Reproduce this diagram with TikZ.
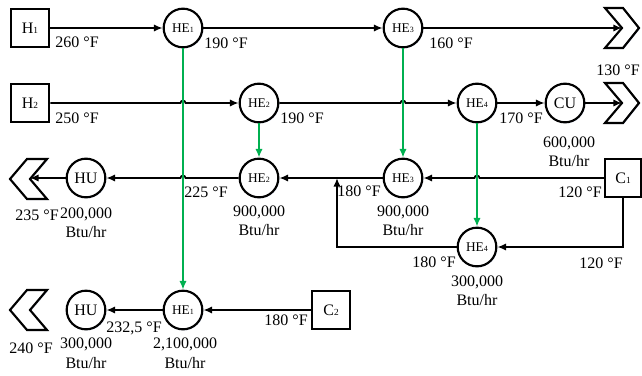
\documentclass[tikz,border=0pt]{standalone}
\usepackage{fontspec}
\setmainfont{Liberation Serif}
\usetikzlibrary{arrows.meta,shadows}
\definecolor{flowgreen}{RGB}{0,176,80}
\definecolor{shadowblue}{RGB}{170,190,230}
\newcommand\boxsub[1]{{\fontsize{7}{8}\selectfont #1}}
\newcommand\hesub[1]{{\fontsize{6}{7}\selectfont #1}}
\begin{document}
\begin{tikzpicture}[x=0.75pt,y=-0.75pt,
  shd/.style={drop shadow={opacity=0.35,fill=shadowblue,shadow xshift=0.8pt,shadow yshift=-0.8pt}},
  unitbox/.style={draw,line width=1.6pt,minimum width=29pt,minimum height=28pt,inner sep=0pt,fill=white,shd,font=\fontsize{12}{14}\selectfont},
  hx/.style={draw,circle,line width=1.6pt,minimum size=29pt,inner sep=0pt,fill=white,shd,font=\fontsize{10}{12}\selectfont},
  util/.style={hx,font=\fontsize{12}{14}\selectfont},
  chev/.style={draw,line width=1.6pt,fill=white,line join=miter,shd},
  flow/.style={line width=1.25pt,-{Latex[length=6.5pt,width=5.5pt]}},
  heat/.style={flow,draw=flowgreen},
  lbl/.style={font=\fontsize{12}{14}\selectfont,inner sep=0pt},
]
\useasboundingbox (0,0) rectangle (642,375);

% chevrons
\foreach \yy in {28,103}{
  \draw[chev] (605,\yy-20) -- (623,\yy-20) -- (639,\yy) -- (623,\yy+20) -- (605,\yy+20) -- (622,\yy) -- cycle;
}
\foreach \yy in {179,310}{
  \draw[chev] (47,\yy-20) -- (27,\yy-20) -- (10,\yy) -- (27,\yy+20) -- (47,\yy+20) -- (30,\yy) -- cycle;
}
\coordinate (out1) at (622,28);
\coordinate (out2) at (622,103);
\coordinate (out3) at (30,178);

% nodes
\node[unitbox] (H1) at (30,28) {H\boxsub{1}};
\node[unitbox] (H2) at (30,103) {H\boxsub{2}};
\node[unitbox,minimum width=27pt] (C1) at (623,178) {C\boxsub{1}};
\node[unitbox] (C2) at (331,310) {C\boxsub{2}};

\node[hx] (HE1) at (183,28) {HE\hesub{1}};
\node[hx] (HE3) at (403,28) {HE\hesub{3}};
\node[hx] (HE2) at (259,103) {HE\hesub{2}};
\node[hx] (HE4) at (477,103) {HE\hesub{4}};
\node[util] (CU) at (565,103) {CU};

\node[util] (HUa) at (86,178) {HU};
\node[hx] (HE2b) at (259,178) {HE\hesub{2}};
\node[hx] (HE3b) at (403,178) {HE\hesub{3}};
\node[hx] (HE4b) at (477,247) {HE\hesub{4}};

\node[util] (HUb) at (86,310) {HU};
\node[hx] (HE1b) at (183,310) {HE\hesub{1}};

\coordinate (loopc) at (337,247);
\coordinate (loopt) at (337,178);
\coordinate (c1d) at (623,247);

% hot streams
\draw[flow] (H1.east) -- (HE1.west);
\draw[flow] (HE1.east) -- (HE3.west);
\draw[flow] (HE3.east) -- (out1);

\draw[flow] (H2.east) -- (180.5,103) arc[start angle=180,end angle=360,radius=2.5] -- (HE2.west);
\draw[flow] (HE2.east) -- (400.5,103) arc[start angle=180,end angle=360,radius=2.5] -- (HE4.west);
\draw[flow] (HE4.east) -- (CU.west);
\draw[flow] (CU.east) -- (out2);

% cold streams
\draw[flow] (C1.west) -- (479.5,178) arc[start angle=0,end angle=-180,radius=2.5] -- (HE3b.east);
\draw[flow] (HE3b.west) -- (HE2b.east);
\draw[flow] (HE2b.west) -- (185.5,178) arc[start angle=0,end angle=-180,radius=2.5] -- (HUa.east);
\draw[flow] (HUa.west) -- (out3);
\draw[flow] (C1.south) -- (c1d) -- (HE4b.east);
\draw[flow] (HE4b.west) -- (loopc) -- (loopt);

\draw[flow] (C2.west) -- (HE1b.east);
\draw[flow] (HE1b.west) -- (HUb.east);

% heat exchange links
\draw[heat] (HE1.south) -- (HE1b.north);
\draw[heat] (HE3.south) -- (HE3b.north);
\draw[heat] (HE2.south) -- (HE2b.north);
\draw[heat] (HE4.south) -- (HE4b.north);

% labels
\node[lbl] (t1) at (77,42) {260 °F};
\node[lbl] (t2) at (226,43) {190 °F};
\node[lbl] (t3) at (451,43) {160 °F};
\node[lbl] (t4) at (618,70) {130 °F};
\node[lbl] (t5) at (77,118) {250 °F};
\node[lbl] (t6) at (302,118) {190 °F};
\node[lbl] (t7) at (521,118) {170 °F};
\node[lbl] (q1) at (569,143) {600,000};
\node[lbl] (q1u) at (569,161) {Btu/hr};
\node[lbl] (t8) at (37,215) {235 °F};
\node[lbl] (q2) at (86,214) {200,000};
\node[lbl] (q2u) at (86,232) {Btu/hr};
\node[lbl] (t9) at (206,192) {225 °F};
\node[lbl] (q3) at (259,212) {900,000};
\node[lbl] (q3u) at (259,230) {Btu/hr};
\node[lbl] (t10) at (359,191) {180 °F};
\node[lbl] (q4) at (403,212) {900,000};
\node[lbl] (q4u) at (403,230) {Btu/hr};
\node[lbl] (t11) at (580,192) {120 °F};
\node[lbl] (t12) at (434,262) {180 °F};
\node[lbl] (t13) at (601,263) {120 °F};
\node[lbl] (q5) at (477,282) {300,000};
\node[lbl] (q5u) at (477,300) {Btu/hr};
\node[lbl] (t14) at (134,328) {232,5 °F};
\node[lbl] (t15) at (31,348) {240 °F};
\node[lbl] (q6) at (86,344) {300,000};
\node[lbl] (q6u) at (86,363) {Btu/hr};
\node[lbl] (q7) at (185,344) {2,100,000};
\node[lbl] (q7u) at (185,363) {Btu/hr};
\node[lbl] (t16) at (286,320) {180 °F};
\end{tikzpicture}
\end{document}
